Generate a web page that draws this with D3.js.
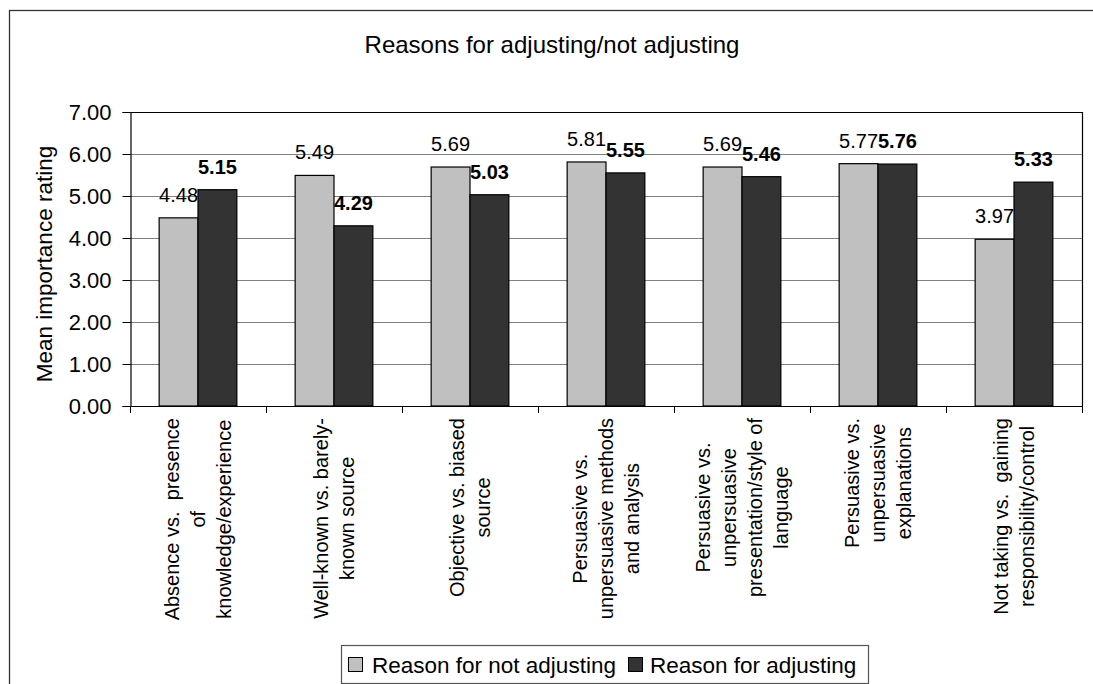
<!DOCTYPE html>
<html>
<head>
<meta charset="utf-8">
<script src="https://cdn.jsdelivr.net/npm/d3@7"></script>
<style>
  html, body { margin: 0; padding: 0; background: #fff; }
  svg { display: block; font-family: Arial, "Liberation Sans", sans-serif; }
</style>
</head>
<body>
<svg id="chart" width="1093" height="684"></svg>
<script>
// Category labels, one array entry per printed line
const categories = [
  ["Absence vs.  presence", "of", "knowledge/experience"],
  ["Well-known vs. barely-", "known source"],
  ["Objective vs. biased", "source"],
  ["Persuasive vs.", "unpersuasive methods", "and analysis"],
  ["Persuasive vs.", "unpersuasive", "presentation/style of", "language"],
  ["Persuasive vs.", "unpersuasive", "explanations"],
  ["Not taking vs.  gaining", "responsibility/control"]
];
const seriesNames = ["Reason for not adjusting", "Reason for adjusting"];
const notAdjusting = [4.48, 5.49, 5.69, 5.81, 5.69, 5.77, 3.97];
const adjusting = [5.15, 4.29, 5.03, 5.55, 5.46, 5.76, 5.33];
const yTicks = [0, 1, 2, 3, 4, 5, 6, 7];

const seriesValues = [notAdjusting, adjusting];
const fills = ["#c0c0c0", "#333333"];

const svg = d3.select("#chart");
const plot = { left: 130, right: 1082, top: 112, bottom: 406 };

// Outer chart frame (runs past the right and bottom edges)
svg.append("rect")
  .attr("x", 9.5).attr("y", 10.5)
  .attr("width", 1200).attr("height", 800)
  .attr("fill", "none").attr("stroke", "#333").attr("stroke-width", 1.3);

const x0 = d3.scaleBand()
  .domain(d3.range(categories.length))
  .range([plot.left, plot.right])
  .paddingInner(0).paddingOuter(0);
const bw = x0.bandwidth();
// gap width 150%: each bar is bw / 3.5
const x1 = d3.scaleBand()
  .domain(d3.range(seriesValues.length))
  .range([0.75 * bw / 3.5, 2.75 * bw / 3.5]);
const y = d3.scaleLinear().domain([0, 7]).range([plot.bottom, plot.top]);

// Horizontal gridlines
svg.append("g")
  .selectAll("line")
  .data(yTicks.filter(t => t > 0 && t < 7))
  .join("line")
  .attr("x1", plot.left).attr("x2", plot.right)
  .attr("y1", d => Math.round(y(d)) + 0.5).attr("y2", d => Math.round(y(d)) + 0.5)
  .attr("stroke", "#808080").attr("stroke-width", 1);

// Plot area top and right border
svg.append("path")
  .attr("d", `M${plot.left},${y(7) + 0.5}H${plot.right + 0.5}V${plot.bottom}`)
  .attr("fill", "none").attr("stroke", "#000").attr("stroke-width", 1.2);

// Bars
const groups = svg.append("g")
  .selectAll("g")
  .data(categories.map((c, i) => i))
  .join("g")
  .attr("transform", i => `translate(${x0(i)},0)`);

groups.selectAll("rect")
  .data(i => seriesValues.map((s, k) => ({ k, v: s[i] })))
  .join("rect")
  .attr("x", d => x1(d.k))
  .attr("y", d => y(d.v))
  .attr("width", x1.bandwidth())
  .attr("height", d => y(0) - y(d.v))
  .attr("fill", d => fills[d.k])
  .attr("stroke", "#000").attr("stroke-width", 1.2);

// Value labels: normal for the first series, bold for the second
groups.selectAll("text")
  .data(i => seriesValues.map((s, k) => ({ k, v: s[i] })))
  .join("text")
  .attr("x", d => x1(d.k) + x1.bandwidth() / 2)
  .attr("y", d => y(d.v) - 16)
  .attr("text-anchor", "middle")
  .attr("font-size", 20)
  .attr("font-weight", d => d.k === 1 ? "bold" : "normal")
  .attr("fill", "#000")
  .text(d => d.v.toFixed(2));

// Y axis
const yAxis = d3.axisLeft(y)
  .tickValues(yTicks)
  .tickFormat(d3.format(".2f"))
  .tickSize(8)
  .tickPadding(11);
const ya = svg.append("g")
  .attr("transform", `translate(${plot.left + 0.5},0)`)
  .call(yAxis);
ya.select(".domain").attr("stroke", "#000").attr("stroke-width", 1.2);
ya.selectAll(".tick line").attr("stroke", "#000");
ya.selectAll(".tick text")
  .attr("font-size", 22)
  .attr("font-family", "Arial, 'Liberation Sans', sans-serif")
  .attr("fill", "#000");

// X axis line with tick marks at the category boundaries
const xa = svg.append("g");
xa.append("line")
  .attr("x1", plot.left).attr("x2", plot.right + 0.5)
  .attr("y1", plot.bottom + 0.5).attr("y2", plot.bottom + 0.5)
  .attr("stroke", "#000").attr("stroke-width", 1.2);
xa.selectAll("line.tick")
  .data(d3.range(categories.length + 1))
  .join("line")
  .attr("class", "tick")
  .attr("x1", i => Math.round(plot.left + i * bw) + 0.5)
  .attr("x2", i => Math.round(plot.left + i * bw) + 0.5)
  .attr("y1", plot.bottom).attr("y2", plot.bottom + 7)
  .attr("stroke", "#000");

// Rotated category labels, lines centred, block hanging below the axis
const lineGap = 26;
const labelTop = 418;
categories.forEach((lines, i) => {
  const cx = x0(i) + bw / 2;
  const g = svg.append("g");
  const texts = lines.map((ln, j) => {
    const bx = cx + 7 + (j - (lines.length - 1) / 2) * lineGap;
    return g.append("text")
      .attr("font-size", 20)
      .attr("text-anchor", "middle")
      .attr("fill", "#000")
      .attr("xml:space", "preserve")
      .style("white-space", "pre")
      .attr("data-bx", bx)
      .text(ln);
  });
  const maxLen = d3.max(texts, t => t.node().getComputedTextLength());
  const cy = labelTop + maxLen / 2;
  texts.forEach(t => {
    const bx = +t.attr("data-bx");
    t.attr("transform", `translate(${bx},${cy}) rotate(-90)`).attr("data-bx", null);
  });
});

// Y axis title
svg.append("text")
  .attr("transform", `translate(52,${(plot.top + plot.bottom) / 2 + 5}) rotate(-90)`)
  .attr("text-anchor", "middle")
  .attr("font-size", 22.5)
  .attr("fill", "#000")
  .text("Mean importance rating");

// Chart title
svg.append("text")
  .attr("x", 552).attr("y", 53)
  .attr("text-anchor", "middle")
  .attr("font-size", 24)
  .attr("fill", "#000")
  .text("Reasons for adjusting/not adjusting");

// Legend
const legend = svg.append("g");
legend.append("rect")
  .attr("x", 341.5).attr("y", 645.5)
  .attr("width", 527).attr("height", 38)
  .attr("fill", "#fff").attr("stroke", "#555").attr("stroke-width", 1.2);
const legendItems = [
  { sx: 348, tx: 372 },
  { sx: 628, tx: 650 }
];
seriesNames.forEach((name, k) => {
  legend.append("rect")
    .attr("x", legendItems[k].sx + 0.5).attr("y", 657.5)
    .attr("width", 14).attr("height", 14)
    .attr("fill", fills[k]).attr("stroke", "#000");
  legend.append("text")
    .attr("x", legendItems[k].tx).attr("y", 673)
    .attr("font-size", 22.5)
    .attr("fill", "#000")
    .text(name);
});
</script>
</body>
</html>
